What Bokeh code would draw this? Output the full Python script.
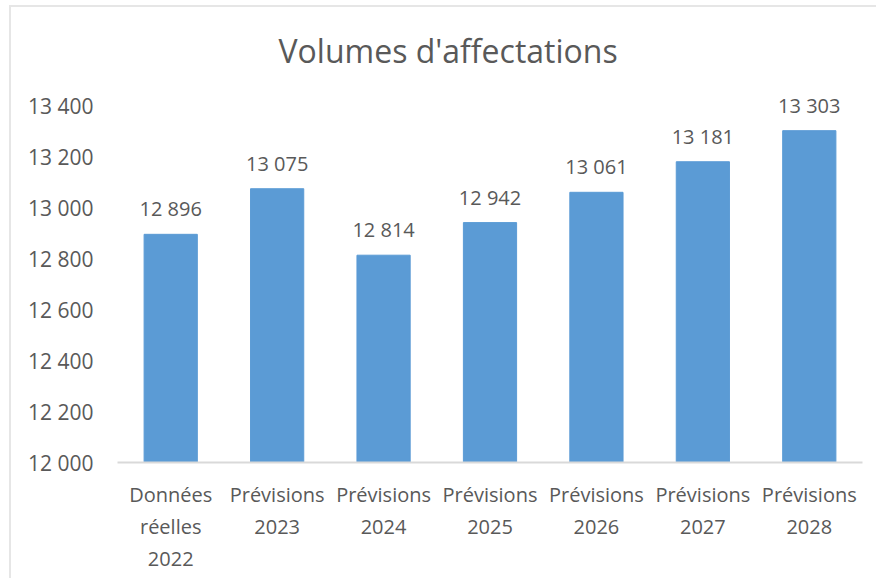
from bokeh.plotting import figure
from bokeh.models import ColumnDataSource, FactorRange, Range1d, FixedTicker, InlineStyleSheet
from bokeh.core.properties import value
from bokeh.embed import file_html
from bokeh.resources import INLINE

categories = ["Données\nréelles\n2022", "Prévisions\n2023", "Prévisions\n2024",
              "Prévisions\n2025", "Prévisions\n2026", "Prévisions\n2027", "Prévisions\n2028"]
volumes = [12896, 13075, 12814, 12942, 13061, 13181, 13303]
y_ticks = [12000, 12200, 12400, 12600, 12800, 13000, 13200, 13400]
y_tick_labels = ["12 000", "12 200", "12 400", "12 600", "12 800", "13 000", "13 200", "13 400"]

FONT = "Open Sans"
TXT = "#595959"

src = ColumnDataSource(dict(
    cat=categories,
    val=volumes,
    lbl=[f"{v:,}".replace(",", " ") for v in volumes],
))

p = figure(width=876, height=578, output_backend="svg", toolbar_location=None,
           x_range=FactorRange(*categories), y_range=Range1d(12000, 13500),
           title="Volumes d'affectations",
           min_border_left=117, min_border_right=14, min_border_top=80, min_border_bottom=116)

p.vbar(x="cat", top="val", bottom=12000, width=0.5, source=src,
       fill_color="#5B9BD5", line_color="#5B9BD5")
p.text(x="cat", y="val", text="lbl", source=src, text_align="center", text_baseline="bottom",
       y_offset=-12, text_font=value(FONT), text_font_size="20px", text_color=TXT)

p.title.text_font = FONT
p.title.text_font_size = "32px"
p.title.text_font_style = "normal"
p.title.text_color = TXT
p.title.align = "left"
p.title.offset = 161
p.title.standoff = 18

p.outline_line_color = None
p.xgrid.grid_line_color = None
p.ygrid.grid_line_color = None

p.yaxis.ticker = FixedTicker(ticks=y_ticks)
p.yaxis.major_label_overrides = dict(zip(y_ticks, y_tick_labels))
p.yaxis.axis_line_color = None
p.yaxis.major_tick_line_color = None
p.yaxis.minor_tick_line_color = None
p.yaxis.major_tick_out = 0
p.yaxis.major_label_standoff = 24
p.yaxis.major_label_text_font = FONT
p.yaxis.major_label_text_font_size = "21px"
p.yaxis.major_label_text_color = TXT

p.xaxis.axis_line_color = "#d9d9d9"
p.xaxis.axis_line_width = 2
p.xaxis.major_tick_line_color = None
p.xaxis.major_tick_out = 0
p.xaxis.major_label_standoff = 18
p.xaxis.major_label_text_font = FONT
p.xaxis.major_label_text_font_size = "20px"
p.xaxis.major_label_text_color = TXT
p.xaxis.major_label_orientation = "horizontal"

p.stylesheets = [InlineStyleSheet(css="""
:host { position: relative; }
:host::after {
  content: ''; position: absolute; left: 9px; top: 5px; right: 0; bottom: 0;
  border-left: 2px solid #e6e6e6; border-top: 2px solid #e6e6e6;
  pointer-events: none;
}
""")]

open("out.html", "w").write(file_html(p, INLINE))
